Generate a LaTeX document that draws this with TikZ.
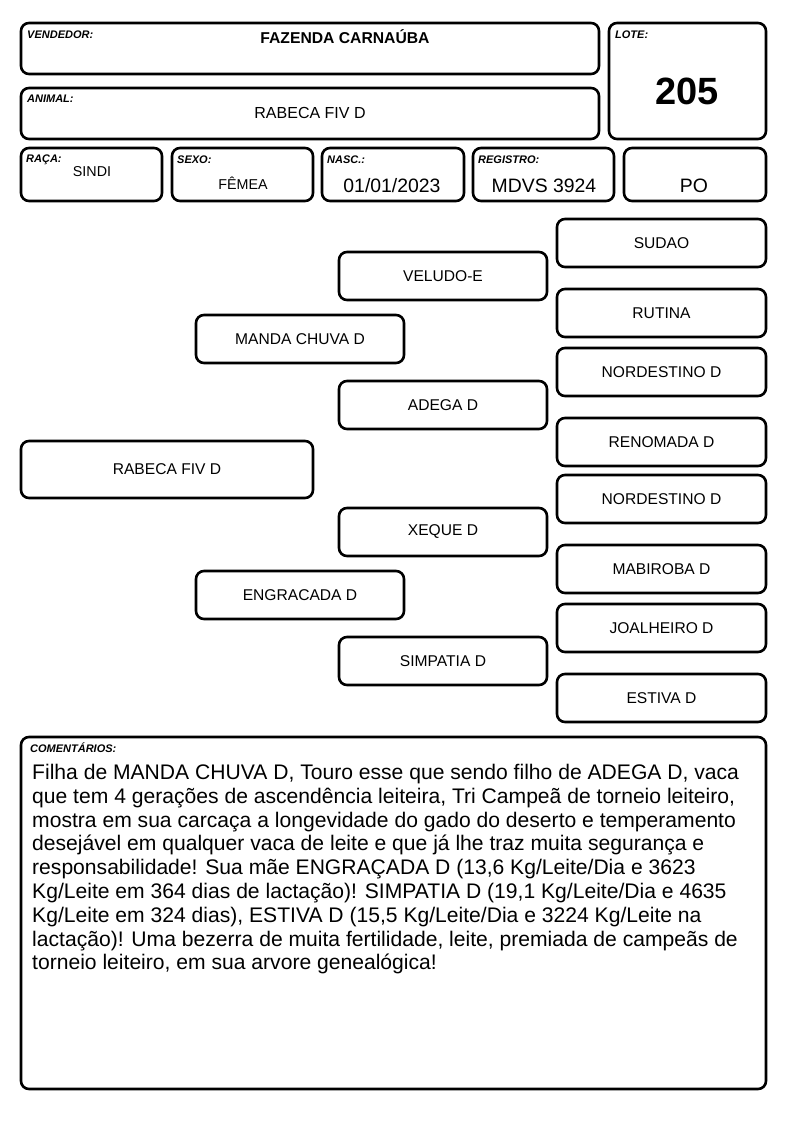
\documentclass[tikz,border=0pt]{standalone}
\usepackage{fontspec}
\setmainfont{Liberation Sans}
\usetikzlibrary{positioning}
\newcommand{\fs}[1]{\fontsize{#1}{1.15\dimexpr#1pt\relax}\selectfont}
\tikzset{
    card/.style={draw, line width=2.6pt, rounded corners=8pt, inner sep=0pt},
    lbl/.style={anchor=base west, inner sep=0pt, font=\fs{11}\bfseries\itshape},
    val/.style={inner sep=0pt},
    gen1/.style={card, minimum width=292pt, minimum height=57pt, font=\fs{15.6}},
    gen2/.style={card, minimum width=208pt, minimum height=48pt, font=\fs{15.6}},
    gen4/.style={card, minimum width=209pt, minimum height=48pt, font=\fs{15.6}}
}
\begin{document}
\begin{tikzpicture}[x=1pt,y=-1pt]
    \useasboundingbox (0,0) rectangle (794,1123);
    % header
    \draw[card] (21,23) rectangle (599,74);
    \draw[card] (609,23) rectangle (766,139);
    \draw[card] (21,88) rectangle (599,139);
    \draw[card] (21,148) rectangle (162,201);
    \draw[card] (172,148) rectangle (313,201);
    \draw[card] (322,148) rectangle (464,201);
    \draw[card] (473,148) rectangle (614,201);
    \draw[card] (624,148) rectangle (766,201);
    \node[lbl] (vendedor) at (27,39) {VENDEDOR:};
    \node[lbl] (lote) at (615,39) {LOTE:};
    \node[lbl] (animal) at (27,103) {ANIMAL:};
    \node[lbl] (raca) at (26,163) {RAÇA:};
    \node[lbl] (sexo) at (177,164) {SEXO:};
    \node[lbl] (nasc) at (327,164) {NASC.:};
    \node[lbl] (registro) at (478,164) {REGISTRO:};
    \node[val, font=\fs{15.7}\bfseries] (fazenda) at (345,37) {FAZENDA CARNAÚBA};
    \node[val, font=\fs{38}\bfseries] (num) at (687,91) {205};
    \node[val, font=\fs{16}] (nome) at (310,113) {RABECA FIV D};
    \node[val, font=\fs{14.3}] (sindi) at (92,172) {SINDI};
    \node[val, font=\fs{14.3}] (femea) at (243,183) {FÊMEA};
    \node[val, font=\fs{19.4}] (data) at (392,186) {01/01/2023};
    \node[val, font=\fs{19.4}] (reg) at (544,186) {MDVS 3924};
    \node[val, font=\fs{19.4}] (po) at (694,186) {PO};
    % pedigree
    \node[gen1] (animal1) at (167,469.5) {RABECA FIV D};
    \node[gen2] (pai) at (300,339) {MANDA CHUVA D};
    \node[gen2] (mae) at (300,595) {ENGRACADA D};
    \node[gen2] (avo1) at (443,276) {VELUDO-E};
    \node[gen2] (avo2) at (443,405) {ADEGA D};
    \node[gen2] (avo3) at (443,532) {XEQUE D};
    \node[gen2] (avo4) at (443,661) {SIMPATIA D};
    \foreach \nm/\yy [count=\i] in {SUDAO/243, RUTINA/313, NORDESTINO D/372,
      RENOMADA D/442, NORDESTINO D/499, MABIROBA D/569, JOALHEIRO D/628,
      ESTIVA D/698} {
      \node[gen4] (bis\i) at (661.5,\yy) {\nm};
    }
    % comentarios
    \draw[card] (21,737) rectangle (766,1089);
    \node[lbl] (coment) at (30,752) {COMENTÁRIOS:};
    \node[anchor=north west, inner sep=0pt, align=left,
      font=\fontsize{21.1}{23.8}\selectfont] (texto) at (32,764) {%
      Filha de MANDA CHUVA D, Touro esse que sendo filho de ADEGA D, vaca\\
      que tem 4 gerações de ascendência leiteira, Tri Campeã de torneio leiteiro,\\
      mostra em sua carcaça a longevidade do gado do deserto e temperamento\\
      desejável em qualquer vaca de leite e que já lhe traz muita segurança e\\
      responsabilidade! Sua mãe ENGRAÇADA D (13,6 Kg/Leite/Dia e 3623\\
      Kg/Leite em 364 dias de lactação)! SIMPATIA D (19,1 Kg/Leite/Dia e 4635\\
      Kg/Leite em 324 dias), ESTIVA D (15,5 Kg/Leite/Dia e 3224 Kg/Leite na\\
      lactação)! Uma bezerra de muita fertilidade, leite, premiada de campeãs de\\
      torneio leiteiro, em sua arvore genealógica!};
  \end{tikzpicture}
\end{document}
